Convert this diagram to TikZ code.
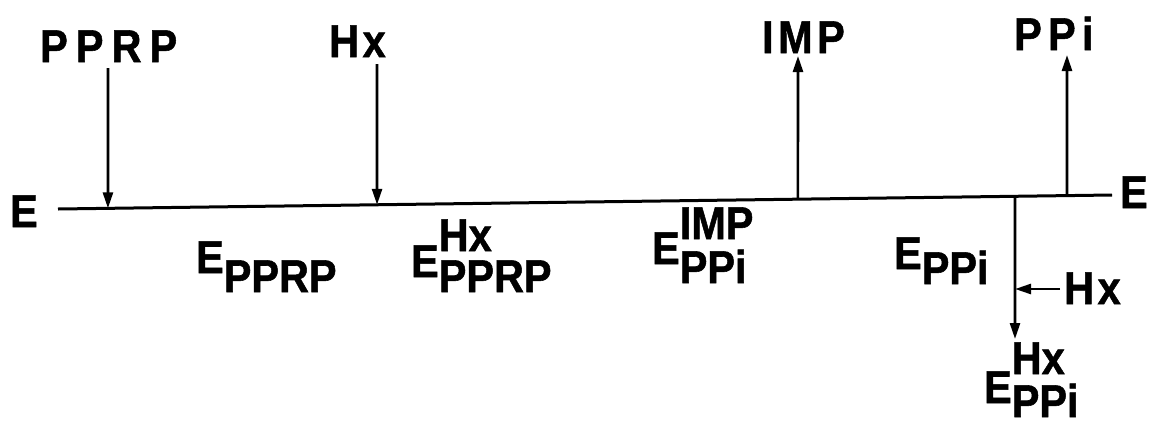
\documentclass[tikz,border=0pt]{standalone}
\usepackage{fontspec}
\usepackage{graphicx}
\setmainfont{Liberation Sans}
\newfontfamily\lfont{Liberation Sans Bold}[FakeBold=1.2]
\usetikzlibrary{arrows.meta,calc}
\newcommand\lb[1]{\scalebox{0.9}[1]{#1}}
\newcommand\Es[2]{E\raisebox{-#2pt}{#1}}
\newcommand\Ess[4]{E\rlap{\raisebox{#4pt}{#3}}\raisebox{-#2pt}{#1}}
\tikzset{
  lab/.style={inner sep=0pt, anchor=base west, font=\lfont\fontsize{46}{50}\selectfont},
  ln/.style={line width=3pt},
  arr/.style={line width=2.6pt, -{Triangle[length=16pt,width=10pt]}},
}
\begin{document}
\begin{tikzpicture}[x=1pt,y=-1pt]
\useasboundingbox (0,0) rectangle (1152,424);
% main line
\coordinate (L) at (58,209);
\coordinate (R) at (1112,195);
\draw[ln] (L) -- (R);
\coordinate (p1) at ($(L)!0.0474!(R)$);
\coordinate (p2) at ($(L)!0.3027!(R)$);
\coordinate (p3) at ($(L)!0.7020!(R)$);
\coordinate (p4) at ($(L)!0.9080!(R)$);
\coordinate (p5) at ($(L)!0.9573!(R)$);
% labels
\node[lab] (eL) at (10,227) {\lb{E}};
\node[lab] (eR) at (1120,208) {\lb{E}};
\node[lab] (pprp) at (40,62) {\lb{P\hspace{9pt}P\hspace{9pt}R\hspace{9pt}P}};
\node[lab] (hx) at (329,57) {\lb{H\hspace{4pt}x}};
\node[lab] (imp) at (762,53) {\lb{I\hspace{5pt}M\hspace{5pt}P}};
\node[lab] (ppi) at (1014,50) {\lb{P\hspace{7pt}P\hspace{7pt}i}};
\node[lab] (hx2) at (1064,304) {\lb{H\hspace{4pt}x}};
\node[lab] (e1) at (196,273) {\lb{\Es{PPRP}{19}}};
\node[lab] (e2) at (411,277) {\lb{\Ess{PPRP}{15}{Hx}{26}}};
\node[lab] (e3) at (652,264) {\lb{\Ess{PPi}{19}{IMP}{25}}};
\node[lab] (e4) at (894,269) {\lb{\Es{PPi}{15}}};
\node[lab] (e5) at (984,403) {\lb{\Ess{PPi}{14}{Hx}{29}}};
% arrows
\coordinate (a1) at (108,68);
\coordinate (a2) at (377,64);
\coordinate (a3) at (798,56);
\coordinate (a4) at (1067,55);
\coordinate (a5) at (1015,339);
\coordinate (s1) at (1060,289);
\draw[arr] (a1) -- (p1);
\draw[arr] (a2) -- (p2);
\draw[arr] (p3) -- (a3);
\draw[arr] (p5) -- (a4);
\draw[arr] (p4) -- (a5);
\draw[arr] (s1) -- (s1 -| p4);
\end{tikzpicture}
\end{document}
